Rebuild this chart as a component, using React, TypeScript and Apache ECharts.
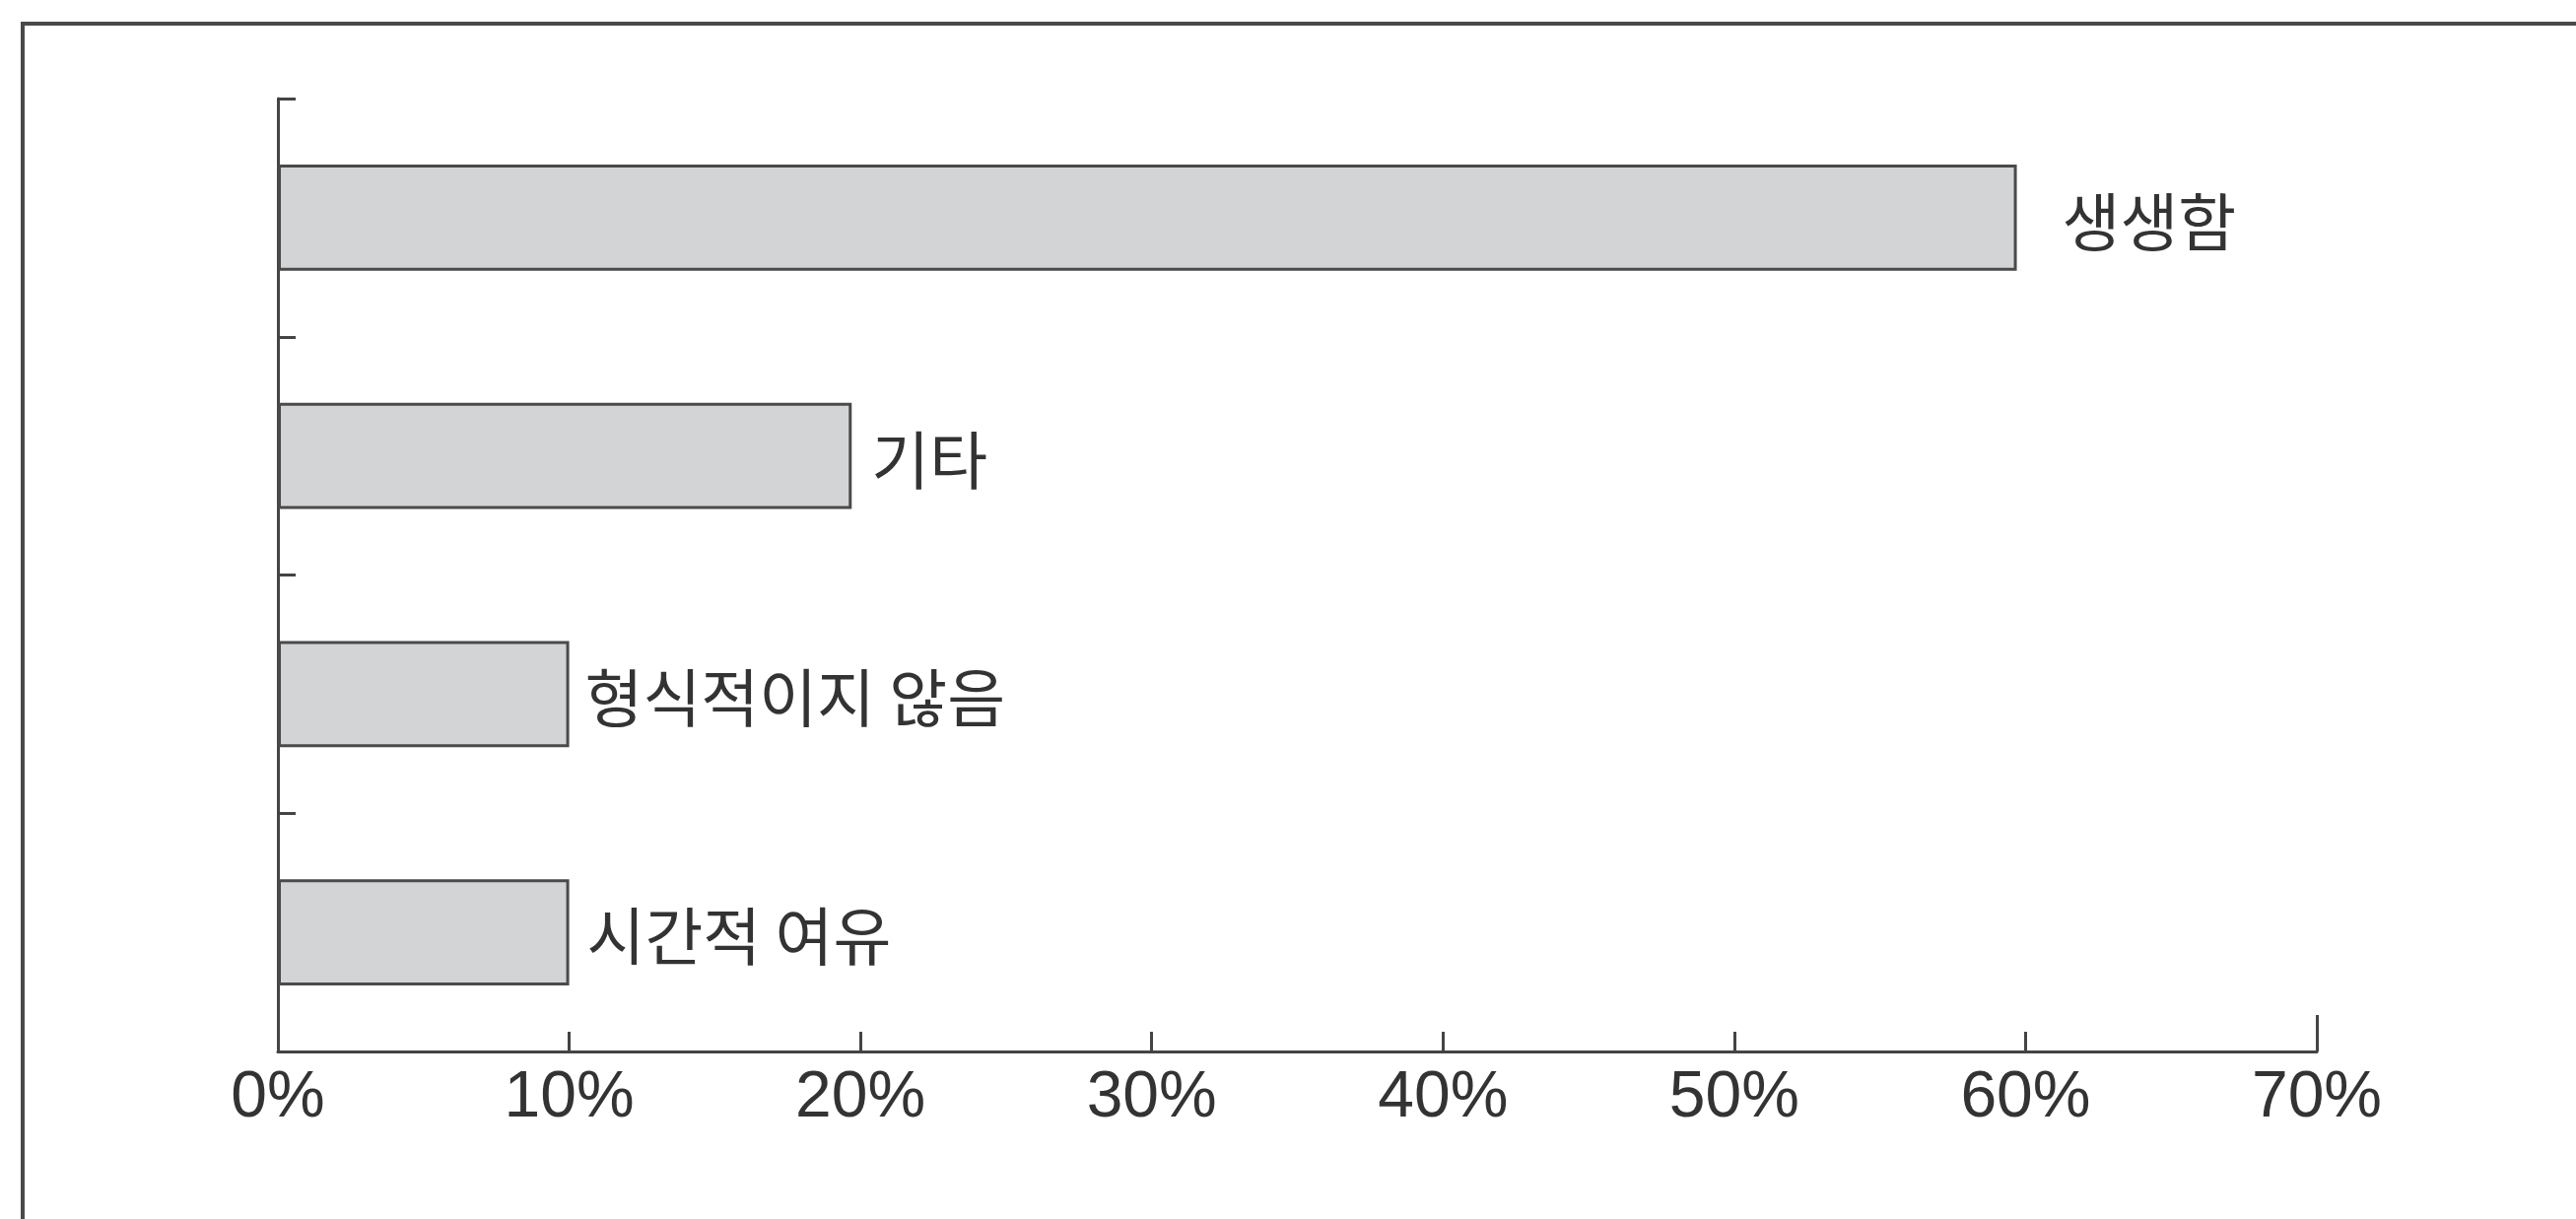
import React, { useEffect, useRef } from "react";
import * as echarts from "echarts";

const categories = ["생생함", "기타", "형식적이지 않음", "시간적 여유"];
const values = [59.7, 19.7, 10, 10];
const labelGaps = [46, 20, 16, 18];
const xMin = 0;
const xMax = 70;
const xStep = 10;

export default function App() {
  const ref = useRef<HTMLDivElement>(null);
  useEffect(() => {
    const chart = echarts.init(ref.current as HTMLDivElement, null, { renderer: "svg" });
    const lineColor = "#444";
    chart.setOption({
      animation: false,
      backgroundColor: "#ffffff",
      graphic: [
        {
          type: "rect",
          silent: true,
          shape: { x: 23, y: 24, width: 2700, height: 1400 },
          style: { fill: "none", stroke: "#4a4a4a", lineWidth: 4 },
        },
      ],
      grid: { left: 282, right: 263, top: 100, bottom: 170 },
      xAxis: [
        {
          type: "value",
          min: xMin,
          max: xMax,
          interval: xStep,
          axisLine: { show: true, lineStyle: { color: lineColor, width: 3 } },
          axisTick: { show: true, inside: true, length: 20, lineStyle: { color: lineColor, width: 3 } },
          splitLine: { show: false },
          axisLabel: {
            formatter: "{value}%",
            fontSize: 66,
            color: "#333",
            margin: 10,
            fontFamily: "Liberation Sans",
          },
        },
        {
          type: "value",
          position: "bottom",
          min: xMin,
          max: xMax,
          interval: xMax - xMin,
          axisLine: { show: false },
          axisTick: { show: true, inside: true, length: 37, lineStyle: { color: lineColor, width: 3 } },
          splitLine: { show: false },
          axisLabel: { show: false },
        },
      ],
      yAxis: {
        type: "category",
        inverse: true,
        data: categories,
        axisLine: { show: true, lineStyle: { color: lineColor, width: 3 } },
        axisTick: { show: true, inside: true, length: 18, lineStyle: { color: lineColor, width: 3 } },
        axisLabel: { show: false },
        splitLine: { show: false },
      },
      series: [
        {
          type: "bar",
          xAxisIndex: 0,
          barWidth: "44.5%",
          data: values.map((v, i) => ({ value: v, label: { distance: labelGaps[i] } })),
          itemStyle: { color: "#d3d4d6", borderColor: "#4a4a4a", borderWidth: 3 },
          label: {
            show: true,
            position: "right",
            formatter: (p: any) => categories[p.dataIndex],
            fontSize: 64,
            color: "#333",
            fontFamily: "Noto Sans CJK KR",
          },
        },
      ],
    });
    return () => chart.dispose();
  }, []);
  return (
    <div
      ref={ref}
      style={{ position: "absolute", left: 0, top: 0, width: 2614, height: 1237 }}
    />
  );
}
